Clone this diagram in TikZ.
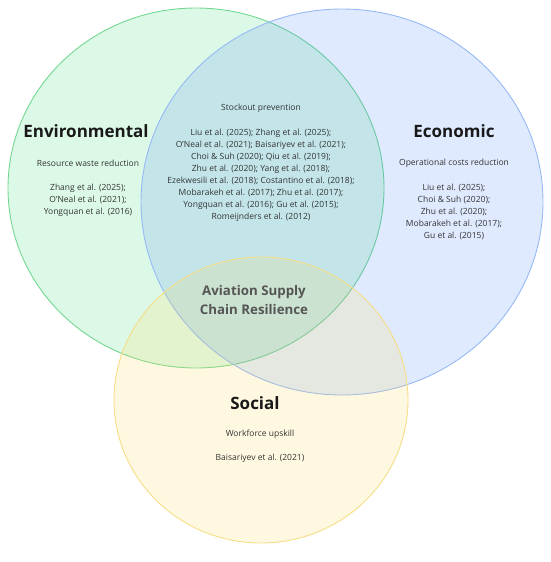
\documentclass[tikz,border=0pt]{standalone}
\usepackage{fontspec}
\setmainfont{Open Sans}
\usepackage{tikz}
\usetikzlibrary{positioning}

\definecolor{envfill}{RGB}{50,220,110}
\definecolor{envline}{RGB}{115,215,145}
\definecolor{ecofill}{RGB}{70,130,255}
\definecolor{ecoline}{RGB}{150,185,245}
\definecolor{socfill}{RGB}{255,215,80}
\definecolor{socline}{RGB}{245,222,135}
\definecolor{coregray}{RGB}{85,85,85}

\begin{document}
\begin{tikzpicture}[x=1pt,y=-1pt]
\tikzstyle{pillar}=[line width=0.9pt, fill opacity=0.17, draw opacity=1]
\tikzstyle{pillarname}=[inner sep=0pt, font=\fontsize{17}{20}\selectfont\bfseries, text=black!90]
\tikzstyle{goal}=[inner sep=0pt, font=\fontsize{8.5}{12}\selectfont, text=black!80]
\tikzstyle{refs}=[inner sep=0pt, align=center, font=\fontsize{8.5}{12}\selectfont, text=black!80]
\useasboundingbox (0,0) rectangle (550,562);
% the three pillars
\draw[pillar, draw=envline, fill=envfill] (196,188) ellipse [x radius=188pt, y radius=180pt];
\draw[pillar, draw=ecoline, fill=ecofill] (342,202) ellipse [x radius=201pt, y radius=193pt];
\draw[pillar, draw=socline, fill=socfill] (261,400) ellipse [x radius=147pt, y radius=143pt];
% environmental
\node[pillarname] (envname) at (86,131) {Environmental};
\node[goal] (envgoal) at (88,163) {Resource waste reduction};
\node[refs] (envrefs) at (88,200) {Zhang et al. (2025);\\ O'Neal et al. (2021);\\ Yongquan et al. (2016)};
% overlap environmental / economic
\node[goal] (bothgoal) at (261,108.6) {Stockout prevention};
\node[refs] (bothrefs) at (261,175.3) {Liu et al. (2025); Zhang et al. (2025);\\
  O'Neal et al. (2021); Baisariyev et al. (2021);\\
  Choi \& Suh (2020); Qiu et al. (2019);\\
  Zhu et al. (2020); Yang et al. (2018);\\
  Ezekwesili et al. (2018); Costantino et al. (2018);\\
  Mobarakeh et al. (2017); Zhu et al. (2017);\\
  Yongquan et al. (2016); Gu et al. (2015);\\
  Romeijnders et al. (2012)};
% economic
\node[pillarname] (econame) at (454,131) {Economic};
\node[goal] (ecogoal) at (454,163) {Operational costs reduction};
\node[refs] (ecorefs) at (454,211.6) {Liu et al. (2025);\\ Choi \& Suh (2020);\\ Zhu et al. (2020);\\ Mobarakeh et al. (2017);\\ Gu et al. (2015)};
% centre
\node[inner sep=0pt, align=center, text=coregray, font=\fontsize{13.3}{19}\selectfont\bfseries] (core) at (254,300) {Aviation Supply\\ Chain Resilience};
% social
\node[pillarname] (socname) at (255,403) {Social};
\node[goal] (socgoal) at (260,434) {Workforce upskill};
\node[refs] (socrefs) at (260,458.7) {Baisariyev et al. (2021)};
\end{tikzpicture}
\end{document}
